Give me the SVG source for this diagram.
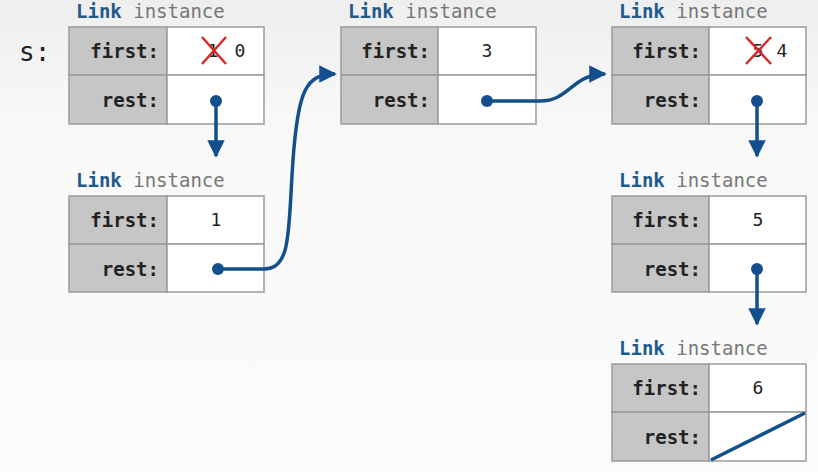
<svg xmlns="http://www.w3.org/2000/svg" width="818" height="472" viewBox="0 0 818 472">
<defs>
<linearGradient id="bg" x1="0" y1="0" x2="0" y2="1">
<stop offset="0" stop-color="#eeeeee"/>
<stop offset="0.25" stop-color="#f8f8f8"/>
<stop offset="1" stop-color="#fbfbfb"/>
</linearGradient>
<marker id="ah" viewBox="0 0 10 10" refX="9" refY="5" markerWidth="5" markerHeight="5" orient="auto" markerUnits="strokeWidth">
<path d="M0,0 L10,5 L0,10 z" fill="#124f8c"/>
</marker>
</defs>
<style>
.lab{fill:#c6c6c6;stroke:#9a9a9a;stroke-width:1.5}
.val{fill:#ffffff;stroke:#9a9a9a;stroke-width:1.5}
.ft{font-family:"DejaVu Sans Mono",monospace;font-size:19px;font-weight:bold;fill:#222}
.vt{font-family:"DejaVu Sans Mono",monospace;font-size:18px;fill:#222}
.hd{font-family:"DejaVu Sans Mono",monospace;font-size:19px;fill:#777}
.hd .k{font-weight:bold;fill:#1f5a8f}
.con{fill:none;stroke:#124f8c;stroke-width:3.5}
.dot{fill:#124f8c}
.x{stroke:#d42a2a;stroke-width:2.5}
</style>
<rect width="818" height="472" fill="url(#bg)"/>
<text x="19" y="61" font-family="DejaVu Sans Mono,monospace" font-size="26" fill="#222">s:</text>

<g id="node1">
<text class="hd" x="76" y="18"><tspan class="k">Link</tspan> instance</text>
<rect class="lab" x="69" y="27" width="98" height="48"/>
<rect class="lab" x="69" y="75" width="98" height="49"/>
<rect class="val" x="167" y="27" width="97" height="48"/>
<rect class="val" x="167" y="75" width="97" height="49"/>
<text class="ft" x="159" y="58" text-anchor="end">first:</text>
<text class="ft" x="159" y="107" text-anchor="end">rest:</text>
<text class="vt" x="213" y="57" text-anchor="middle" fill="#555">1</text>
<line class="x" x1="202" y1="37" x2="226" y2="64"/>
<line class="x" x1="226" y1="37" x2="202" y2="64"/>
<text class="vt" x="240" y="57" text-anchor="middle">0</text>
</g>

<g id="node2">
<text class="hd" x="76" y="187"><tspan class="k">Link</tspan> instance</text>
<rect class="lab" x="69" y="196" width="98" height="48"/>
<rect class="lab" x="69" y="244" width="98" height="48"/>
<rect class="val" x="167" y="196" width="97" height="48"/>
<rect class="val" x="167" y="244" width="97" height="48"/>
<text class="ft" x="159" y="227" text-anchor="end">first:</text>
<text class="ft" x="159" y="276" text-anchor="end">rest:</text>
<text class="vt" x="216" y="226" text-anchor="middle">1</text>
</g>

<g id="node3">
<text class="hd" x="348" y="18"><tspan class="k">Link</tspan> instance</text>
<rect class="lab" x="341" y="27" width="97" height="48"/>
<rect class="lab" x="341" y="75" width="97" height="49"/>
<rect class="val" x="438" y="27" width="98" height="48"/>
<rect class="val" x="438" y="75" width="98" height="49"/>
<text class="ft" x="430" y="58" text-anchor="end">first:</text>
<text class="ft" x="430" y="107" text-anchor="end">rest:</text>
<text class="vt" x="487" y="57" text-anchor="middle">3</text>
</g>

<g id="node4">
<text class="hd" x="619" y="18"><tspan class="k">Link</tspan> instance</text>
<rect class="lab" x="612" y="27" width="97" height="48"/>
<rect class="lab" x="612" y="75" width="97" height="49"/>
<rect class="val" x="709" y="27" width="97" height="48"/>
<rect class="val" x="709" y="75" width="97" height="49"/>
<text class="ft" x="701" y="58" text-anchor="end">first:</text>
<text class="ft" x="701" y="107" text-anchor="end">rest:</text>
<text class="vt" x="758" y="57" text-anchor="middle" fill="#555">5</text>
<line class="x" x1="746" y1="37" x2="771" y2="64"/>
<line class="x" x1="771" y1="37" x2="746" y2="64"/>
<text class="vt" x="782" y="57" text-anchor="middle">4</text>
</g>

<g id="node5">
<text class="hd" x="619" y="187"><tspan class="k">Link</tspan> instance</text>
<rect class="lab" x="612" y="196" width="97" height="48"/>
<rect class="lab" x="612" y="244" width="97" height="48"/>
<rect class="val" x="709" y="196" width="97" height="48"/>
<rect class="val" x="709" y="244" width="97" height="48"/>
<text class="ft" x="701" y="227" text-anchor="end">first:</text>
<text class="ft" x="701" y="276" text-anchor="end">rest:</text>
<text class="vt" x="758" y="226" text-anchor="middle">5</text>
</g>

<g id="node6">
<text class="hd" x="619" y="355"><tspan class="k">Link</tspan> instance</text>
<rect class="lab" x="612" y="364" width="97" height="48"/>
<rect class="lab" x="612" y="412" width="97" height="49"/>
<rect class="val" x="709" y="364" width="97" height="48"/>
<rect class="val" x="709" y="412" width="97" height="49"/>
<text class="ft" x="701" y="395" text-anchor="end">first:</text>
<text class="ft" x="701" y="444" text-anchor="end">rest:</text>
<text class="vt" x="758" y="394" text-anchor="middle">6</text>
<line x1="711" y1="460" x2="805" y2="413" stroke="#124f8c" stroke-width="3.5"/>
</g>

<g id="connectors">
<circle class="dot" cx="216" cy="101" r="6"/>
<path class="con" d="M216,101 V156" marker-end="url(#ah)"/>
<circle class="dot" cx="218" cy="269" r="6"/>
<path class="con" d="M218,269 H264 C292,269 288,230 293,160 C298,90 306,74 335,74" marker-end="url(#ah)"/>
<circle class="dot" cx="487" cy="101" r="6"/>
<path class="con" d="M487,101 H540 C570,101 572,74 605,74" marker-end="url(#ah)"/>
<circle class="dot" cx="757" cy="101" r="6"/>
<path class="con" d="M757,101 V156" marker-end="url(#ah)"/>
<circle class="dot" cx="757" cy="269" r="6"/>
<path class="con" d="M757,269 V324" marker-end="url(#ah)"/>
</g>
</svg>
